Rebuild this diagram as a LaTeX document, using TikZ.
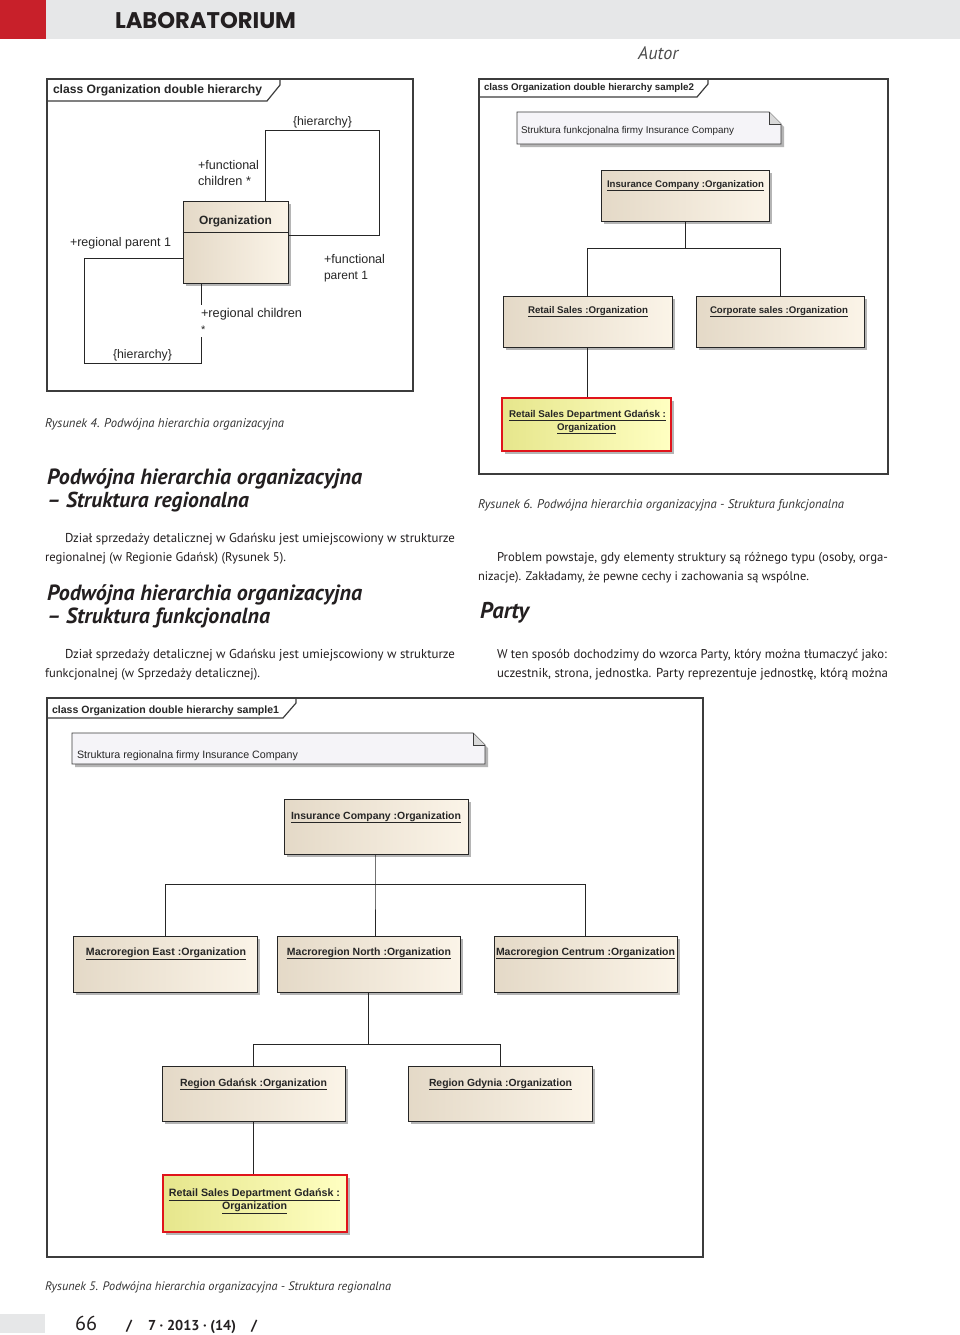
\documentclass[tikz,border=0pt]{standalone}
\usepackage{fontspec}
\usepackage{graphicx}
\setmainfont{PT Sans}
\newfontfamily\diag{Liberation Sans}
\newfontfamily\headf{Poppins}
\usetikzlibrary{shadows,calc}
\definecolor{hdrred}{HTML}{C8202A}
\definecolor{hdrgray}{HTML}{E6E7E8}
\definecolor{txt}{HTML}{231F20}
\definecolor{capc}{HTML}{333333}
\definecolor{begeL}{HTML}{E4D9C7}
\definecolor{begeR}{HTML}{FBF4E8}
\definecolor{yelL}{HTML}{E6E68C}
\definecolor{yelR}{HTML}{FFFFC2}
\definecolor{notef}{HTML}{F5F4F8}
\definecolor{frm}{HTML}{3C3C3C}
\definecolor{shd}{HTML}{B5B5B5}
\definecolor{redb}{HTML}{E0141B}
\newcommand{\fw}[2]{\resizebox{#1pt}{!}{#2}}
\begin{document}
\begin{tikzpicture}[x=1pt,y=-1pt,
  tl/.style={anchor=base west,inner sep=0pt,outer sep=0pt,text=txt},
  captxt/.style={anchor=base west,inner sep=0pt,outer sep=0pt,text=capc,font=\itshape},
  hd/.style={anchor=base west,inner sep=0pt,outer sep=0pt,text=txt,font=\bfseries\itshape},
  dl/.style={anchor=base west,inner sep=0pt,outer sep=0pt,text=black!85,font=\diag},
  dc/.style={anchor=base,inner sep=0pt,outer sep=0pt,text=black!85,font=\diag\bfseries},
  obj/.style={draw=black!85,line width=0.9pt,left color=begeL,right color=begeR,
    general shadow={fill=shd,shadow xshift=3pt,shadow yshift=-3pt},inner sep=0pt},
  hobj/.style={draw=redb,line width=2.6pt,left color=yelL,right color=yelR,
    general shadow={fill=shd,shadow xshift=3pt,shadow yshift=-3pt},inner sep=0pt},
  conn/.style={draw=black!85,line width=0.9pt},
  figframe/.style={draw=frm,line width=1.2pt},
  notebox/.style={fill=notef,draw=frm,line width=0.9pt},
]
\useasboundingbox (0,0) rectangle (960,1335);
\fill[white] (0,0) rectangle (960,1335);

% ---------- header ----------
\fill[hdrred] (0,0) rectangle (46,39);
\fill[hdrgray] (46,0) rectangle (960,39);
\node[tl,font=\headf\bfseries] (hdr) at (115,29) {\fw{181}{LABORATORIUM}};
\node[anchor=base west,inner sep=0pt,text=black!70,font=\itshape] (autor) at (638,60) {\fw{40}{Autor}};

% ---------- Figure 4 ----------
\draw[figframe] (47,79) rectangle (413,391);
\draw[figframe] (47,101) -- (267,101) -- (280,85) -- (280,79);
\node[dl,font=\diag\bfseries] (t4) at (53,94) {\fw{209}{class Organization double hierarchy}};
\node[obj,minimum width=105pt,minimum height=82pt] (org) at (235.5,242) {};
\draw[conn] ($(org.north west)+(0,32)$) -- ($(org.north east)+(0,32)$);
\node[dc] (orgl) at (235.5,224) {\fw{73}{Organization}};
\coordinate (f1) at (265,130);
\coordinate (f2) at (379,130);
\coordinate (f3) at (379,235);
\draw[conn] (org.north -| f1) -- (f1) -- (f2) -- (f3) -- (f3 -| org.east);
\coordinate (r1) at (84,258);
\coordinate (r2) at (84,363);
\coordinate (r3) at (201,363);
\coordinate (r4) at (201,337);
\coordinate (r5) at (201,305);
\draw[conn] (r1 -| org.west) -- (r1) -- (r2) -- (r3) -- (r4);
\draw[conn] (org.south -| r5) -- (r5);
\node[dl] (h4a) at (293,125) {\fw{59}{\{hierarchy\}}};
\node[dl] (fc1) at (198,169) {\fw{61}{+functional}};
\node[dl] (fc2) at (198,185) {\fw{53}{children *}};
\node[dl] (rp) at (70,246) {\fw{101}{+regional parent 1}};
\node[dl] (fp1) at (324,263) {\fw{61}{+functional}};
\node[dl] (fp2) at (324,279) {\fw{44}{parent 1}};
\node[dl] (rc1) at (201,317) {\fw{101}{+regional children}};
\node[dl,font=\diag\fontsize{11}{11}\selectfont] (rc2) at (201,333) {*};
\node[dl] (h4b) at (113,358) {\fw{59}{\{hierarchy\}}};
\node[captxt] (c4) at (45,427) {\fw{239}{Rysunek 4. Podwójna hierarchia organizacyjna}};

% ---------- Figure 6 ----------
\draw[figframe] (479,79) rectangle (888,474);
\draw[figframe] (479,97) -- (697,97) -- (708,84) -- (708,79);
\node[dl,font=\diag\bfseries] (t6) at (484,91) {\fw{210}{class Organization double hierarchy sample2}};
\fill[shd] (520,115) -- (772,115) -- (784,127) -- (784,147) -- (520,147) -- cycle;
\draw[notebox] (517,112) -- (769,112) -- (781,124) -- (781,144) -- (517,144) -- cycle;
\draw[frm,fill=black!15,line width=0.9pt] (769,112) -- (769,124) -- (781,124);
\node[dl] (n6) at (521,133) {\fw{213}{Struktura funkcjonalna firmy Insurance Company}};

\node[obj,minimum width=168pt,minimum height=51pt] (ins6) at (685,195.5) {};
\node[obj,minimum width=169pt,minimum height=51pt] (ret6) at (587.5,321.5) {};
\node[obj,minimum width=168pt,minimum height=51pt] (cor6) at (780,321.5) {};
\node[hobj,minimum width=169pt,minimum height=53pt] (red6) at (586.5,424.5) {};
\node[dc] at (685.5,187) {\fw{157}{\underline{Insurance Company :Organization}}};
\node[dc] at (588,313) {\fw{120}{\underline{Retail Sales :Organization}}};
\node[dc] at (779,313) {\fw{138}{\underline{Corporate sales :Organization}}};
\node[dc] at (587.5,417) {\fw{157}{\underline{Retail Sales Department Gdańsk :}}};
\node[dc] at (586.5,430) {\fw{59}{\underline{Organization}}};
\coordinate (j6) at (685,248);
\draw[conn] (ins6.south) -- (j6);
\draw[conn] (ret6.north) -- (ret6.north |- j6) -- (cor6.north |- j6) -- (cor6.north);
\draw[conn] (ret6.south) -- (ret6.south |- red6.north);
\node[captxt] (c6) at (478,508) {\fw{366}{Rysunek 6. Podwójna hierarchia organizacyjna - Struktura funkcjonalna}};

% ---------- left column text ----------
\node[hd] (h1a) at (47,484) {\fw{315}{Podwójna hierarchia organizacyjna}};
\node[hd] (h1b) at (47,507) {\fw{202}{– Struktura regionalna}};
\node[tl] (p1a) at (65,542) {\fw{390}{Dział sprzedaży detalicznej w Gdańsku jest umiejscowiony w strukturze}};
\node[tl] (p1b) at (45,561) {\fw{241}{regionalnej (w Regionie Gdańsk) (Rysunek 5).}};
\node[hd] (h2a) at (47,600) {\fw{315}{Podwójna hierarchia organizacyjna}};
\node[hd] (h2b) at (47,623) {\fw{223}{– Struktura funkcjonalna}};
\node[tl] (p2a) at (65,658) {\fw{390}{Dział sprzedaży detalicznej w Gdańsku jest umiejscowiony w strukturze}};
\node[tl] (p2b) at (45,677) {\fw{215}{funkcjonalnej (w Sprzedaży detalicznej).}};

% ---------- right column text ----------
\node[tl] (p3a) at (497,561) {\fw{391}{Problem powstaje, gdy elementy struktury są różnego typu (osoby, orga-}};
\node[tl] (p3b) at (478,580) {\fw{331}{nizacje). Zakładamy, że pewne cechy i zachowania są wspólne.}};
\node[hd] (party) at (480,618) {\fw{49}{Party}};
\node[tl] (p4a) at (497,658) {\fw{390}{W ten sposób dochodzimy do wzorca Party, który można tłumaczyć jako:}};
\node[tl] (p4b) at (497,677) {\fw{391}{uczestnik, strona, jednostka. Party reprezentuje jednostkę, którą można}};

% ---------- Figure 5 ----------
\draw[figframe] (47,698) rectangle (703,1257);
\draw[figframe] (47,718) -- (283,718) -- (296,703) -- (296,698);
\node[dl,font=\diag\bfseries] (t5) at (52,713) {\fw{227}{class Organization double hierarchy sample1}};
\fill[shd] (75,736) -- (476,736) -- (488,748) -- (488,767) -- (75,767) -- cycle;
\draw[notebox] (72,733) -- (473,733) -- (485,745) -- (485,764) -- (72,764) -- cycle;
\draw[frm,fill=black!15,line width=0.9pt] (473,733) -- (473,745) -- (485,745);
\node[dl] (n5) at (77,758) {\fw{221}{Struktura regionalna firmy Insurance Company}};

\node[obj,minimum width=184pt,minimum height=55pt] (ins5) at (376,826.5) {};
\node[obj,minimum width=184pt,minimum height=56pt] (east) at (165,964) {};
\node[obj,minimum width=183pt,minimum height=56pt] (north) at (368.5,964) {};
\node[obj,minimum width=183pt,minimum height=56pt] (cent) at (585.5,964) {};
\node[obj,minimum width=183pt,minimum height=55pt] (gdn) at (253.5,1093.5) {};
\node[obj,minimum width=184pt,minimum height=55pt] (gdy) at (500,1093.5) {};
\node[hobj,minimum width=184pt,minimum height=57pt] (red5) at (255,1203.5) {};
\node[dc] at (376,819) {\fw{170}{\underline{Insurance Company :Organization}}};
\node[dc] at (166,955) {\fw{160}{\underline{Macroregion East :Organization}}};
\node[dc] at (369,955) {\fw{164}{\underline{Macroregion North :Organization}}};
\node[dc] at (585.5,955) {\fw{179}{\underline{Macroregion Centrum :Organization}}};
\node[dc] at (253.5,1086) {\fw{147}{\underline{Region Gdańsk :Organization}}};
\node[dc] at (500.5,1086) {\fw{143}{\underline{Region Gdynia :Organization}}};
\node[dc] at (254.5,1196) {\fw{171}{\underline{Retail Sales Department Gdańsk :}}};
\node[dc] at (254.5,1209) {\fw{65}{\underline{Organization}}};
\coordinate (j5) at (375,884);
\draw[conn] (ins5.south -| j5) -- (j5) -- (j5 |- north.north);
\draw[conn] (east.north) -- (east.north |- j5) -- (cent.north |- j5) -- (cent.north);
\coordinate (k5) at (368,1044);
\draw[conn] (north.south) -- (north.south |- k5);
\draw[conn] (gdn.north) -- (gdn.north |- k5) -- (gdy.north |- k5) -- (gdy.north);
\draw[conn] (gdn.south) -- (gdn.south |- red5.north);
\node[captxt] (c5) at (45,1290) {\fw{346}{Rysunek 5. Podwójna hierarchia organizacyjna - Struktura regionalna}};

% ---------- footer ----------
\fill[hdrgray] (0,1314) rectangle (45,1333);
\node[tl] (pg) at (75,1330) {\fw{22}{66}};
\node[tl,font=\bfseries] (s1) at (126,1330) {\fw{6}{/}};
\node[tl,font=\bfseries] (iss) at (148,1330) {\fw{88}{7 · 2013 · (14)}};
\node[tl,font=\bfseries] (s2) at (251,1330) {\fw{6}{/}};
\end{tikzpicture}
\end{document}
